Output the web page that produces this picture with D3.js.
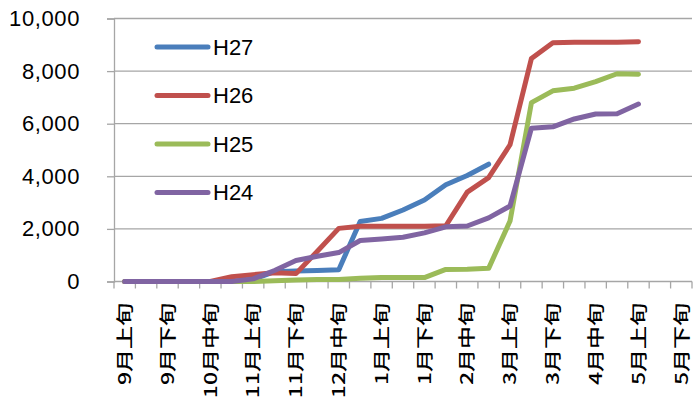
<!DOCTYPE html>
<html><head><meta charset="utf-8">
<script src="https://cdn.jsdelivr.net/npm/d3@7"></script>
<style>
html,body{margin:0;padding:0;background:#fff;}
svg{display:block;}
</style></head>
<body>
<svg id="chart" width="694" height="403"></svg>
<script>
const categories = ['9月上旬','9月中旬','9月下旬','10月上旬','10月中旬','10月下旬','11月上旬','11月中旬','11月下旬','12月上旬','12月中旬','12月下旬','1月上旬','1月中旬','1月下旬','2月上旬','2月中旬','2月下旬','3月上旬','3月中旬','3月下旬','4月上旬','4月中旬','4月下旬','5月上旬','5月中旬','5月下旬'];
const labelCategories = categories.filter((c, i) => i % 2 === 0);
const seriesNames = ['H27','H26','H25','H24'];
const seriesColors = ['#4A7EBB','#C0504D','#9BBB59','#8064A2'];
const H27 = [0,0,0,0,0,0,80,370,400,420,450,2280,2400,2720,3100,3680,4030,4460];
const H26 = [0,0,0,0,0,180,260,330,300,1150,2020,2100,2100,2100,2100,2120,3400,3950,5200,8480,9080,9100,9100,9100,9120];
const H25 = [0,0,0,0,0,0,0,30,60,80,80,120,150,150,150,460,470,500,2300,6800,7250,7350,7600,7900,7880];
const H24 = [0,0,0,0,0,0,100,420,800,960,1100,1560,1620,1680,1850,2080,2110,2420,2870,5830,5880,6180,6370,6380,6750];
const yTicks = [0,2000,4000,6000,8000,10000];

const svg = d3.select('#chart');
const x = d3.scaleBand().domain(categories).range([114, 692]);
const y = d3.scaleLinear().domain([0, 10000]).range([281.5, 18.5]);
const cx = c => x(c) + x.bandwidth() / 2;

// gridlines
svg.append('g').selectAll('line').data(yTicks.filter(d => d > 0)).join('line')
  .attr('x1', 114).attr('x2', 692).attr('y1', d => y(d)).attr('y2', d => y(d))
  .attr('stroke', '#a6a6a6').attr('stroke-width', 1.3);

// y axis
const yAxis = d3.axisLeft(y).tickValues(yTicks).tickSize(7).tickPadding(27)
  .tickFormat(d3.format(','));
const gy = svg.append('g').attr('transform', 'translate(114,0)').call(yAxis);
gy.select('.domain').attr('stroke', '#a6a6a6').attr('stroke-width', 1.3);
gy.selectAll('.tick line').attr('stroke', '#a6a6a6').attr('stroke-width', 1.3);
gy.selectAll('.tick text').attr('font-family', 'Liberation Sans, Arial, sans-serif')
  .attr('font-size', 22).attr('fill', '#000').attr('letter-spacing', 0.6);

// x axis line and between ticks
svg.append('line').attr('x1', 114).attr('x2', 692).attr('y1', y(0)).attr('y2', y(0))
  .attr('stroke', '#a6a6a6').attr('stroke-width', 1.3);
const tickPos = categories.map(c => x(c)).concat([x(categories[categories.length-1]) + x.bandwidth()]);
svg.append('g').selectAll('line').data(tickPos).join('line')
  .attr('x1', d => d).attr('x2', d => d).attr('y1', y(0)).attr('y2', y(0) + 7)
  .attr('stroke', '#a6a6a6').attr('stroke-width', 1.3);

// x labels
svg.append('g').selectAll('text').data(labelCategories).join('text')
  .attr('transform', d => `translate(${cx(d)},303) scale(0.75,1) rotate(-90)`)
  .attr('text-anchor', 'end').attr('dy', '0.36em')
  .attr('font-family', 'Noto Sans CJK JP, sans-serif').attr('font-size', 23)
  .attr('font-weight', 500)
  .attr('fill', '#000').text(d => d);

// lines
const data = [H27, H26, H25, H24];
const line = d3.line().x((d, i) => cx(categories[i])).y(d => y(d));
svg.append('g').selectAll('path').data(data).join('path')
  .attr('d', d => line(d)).attr('fill', 'none')
  .attr('stroke', (d, i) => seriesColors[i]).attr('stroke-width', 5)
  .attr('stroke-linejoin', 'round').attr('stroke-linecap', 'round');

// legend
const lg = svg.append('g').selectAll('g').data(seriesNames).join('g')
  .attr('transform', (d, i) => `translate(0,${47 + i * 48.5})`);
lg.append('line').attr('x1', 157).attr('x2', 208).attr('y1', 0).attr('y2', 0)
  .attr('stroke', (d, i) => seriesColors[i]).attr('stroke-width', 5).attr('stroke-linecap', 'round');
lg.append('text').attr('x', 213).attr('y', 0).attr('dy', '0.36em')
  .attr('font-family', 'Liberation Sans, Arial, sans-serif').attr('font-size', 22)
  .attr('fill', '#000').text(d => d);
</script>
</body></html>
